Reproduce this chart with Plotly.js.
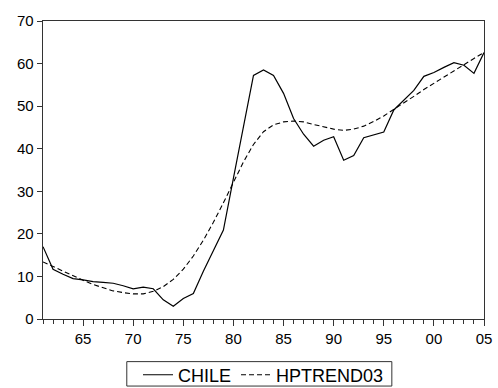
<!DOCTYPE html>
<html>
<head>
<meta charset="utf-8">
<script src="https://cdn.plot.ly/plotly-3.0.1.min.js"></script>
<style>html,body{margin:0;padding:0;background:#fff;}#chart{width:498px;height:388px;}</style>
</head>
<body>
<div id="chart"></div>
<script>
var years = [1961,1962,1963,1964,1965,1966,1967,1968,1969,1970,1971,1972,1973,1974,1975,1976,1977,1978,1979,1980,1981,1982,1983,1984,1985,1986,1987,1988,1989,1990,1991,1992,1993,1994,1995,1996,1997,1998,1999,2000,2001,2002,2003,2004,2005];
var chile = [17.0,11.7,10.5,9.5,9.2,8.8,8.6,8.4,7.8,7.1,7.5,7.1,4.5,3.0,4.8,6.0,11.2,16.2,20.9,33.1,45.2,57.2,58.5,57.2,53.0,47.1,43.4,40.6,42.0,42.8,37.3,38.4,42.6,43.2,43.9,49.1,51.4,53.7,57.0,57.9,59.1,60.2,59.6,57.7,62.6];
var hptrend = [13.4,12.3,11.2,10.1,9.1,8.1,7.3,6.6,6.2,5.9,5.9,6.5,7.6,9.3,11.7,14.8,18.5,22.7,27.3,32.1,36.9,41.0,44.0,45.6,46.3,46.5,46.3,45.7,45.1,44.6,44.3,44.6,45.3,46.4,47.7,49.2,50.7,52.3,53.9,55.4,56.9,58.4,59.8,61.2,62.6];
var seriesNames = ["CHILE","HPTREND03"];
var majorTicks = [1965,1970,1975,1980,1985,1990,1995,2000,2005];
var majorLabels = ["65","70","75","80","85","90","95","00","05"];
var yTicks = [0,10,20,30,40,50,60,70];

var traces = [
  {x: years, y: chile, name: seriesNames[0], type: 'scatter', mode: 'lines',
   line: {color: '#000', width: 1.2}},
  {x: years, y: hptrend, name: seriesNames[1], type: 'scatter', mode: 'lines',
   line: {color: '#000', width: 1.1, dash: '5px,3px'}}
];

var layout = {
  width: 498, height: 388,
  margin: {l: 43, r: 14, t: 21, b: 69, autoexpand: false},
  paper_bgcolor: '#fff', plot_bgcolor: '#fff',
  font: {family: 'Arial, "Liberation Sans", sans-serif', size: 15, color: '#000'},
  showlegend: true,
  legend: {orientation: 'h', x: 0.5, xanchor: 'center', y: -0.126, yanchor: 'top',
           bgcolor: 'rgba(0,0,0,0)', borderwidth: 0, font: {size: 18},
           tracegroupgap: 0, itemwidth: 30},
  shapes: [{type: 'rect', xref: 'paper', yref: 'paper',
            x0: 0.190, x1: 0.791, y0: -0.225, y1: -0.143,
            line: {color: '#333', width: 1}, fillcolor: 'rgba(0,0,0,0)', layer: 'above'}],
  xaxis: {range: [1961, 2005], tickmode: 'array', tickvals: majorTicks, ticktext: majorLabels,
          ticks: 'outside', ticklen: 6, tickcolor: '#333', tickwidth: 1,
          showline: true, linecolor: '#333', linewidth: 1.3, mirror: true,
          showgrid: false, zeroline: false,
          minor: {dtick: 1, tick0: 1961, ticks: 'outside', ticklen: 4, tickcolor: '#333', showgrid: false}},
  yaxis: {range: [0, 70], tickmode: 'array', tickvals: yTicks,
          ticks: 'outside', ticklen: 5, tickcolor: '#333', tickwidth: 1,
          showline: true, linecolor: '#333', linewidth: 1.3, mirror: true,
          showgrid: false, zeroline: false}
};

Plotly.newPlot('chart', traces, layout, {staticPlot: true, displayModeBar: false});
</script>
</body>
</html>
